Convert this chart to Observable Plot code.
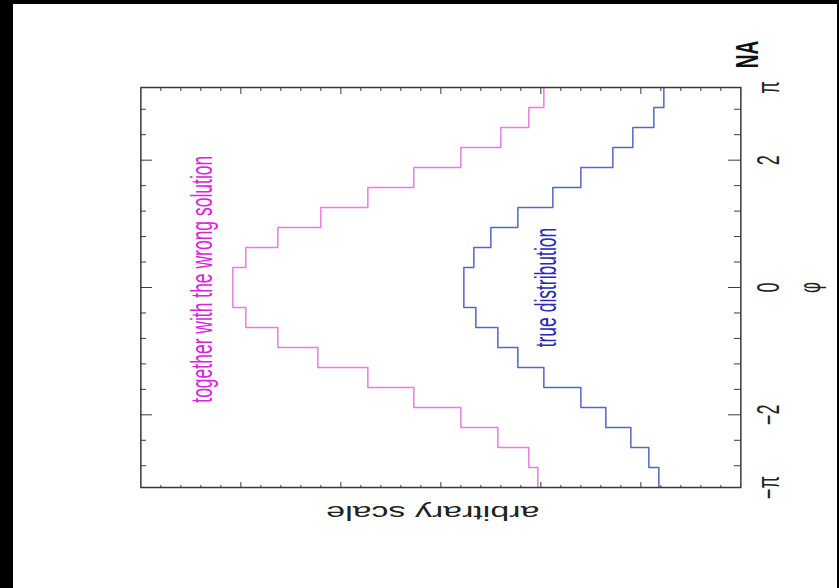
<!DOCTYPE html>
<html><head><meta charset="utf-8">
<script src="https://cdn.jsdelivr.net/npm/d3@7"></script>
<script src="https://cdn.jsdelivr.net/npm/@observablehq/plot@0.6"></script>
<style>
html,body{margin:0;padding:0;background:#000;overflow:hidden;width:839px;height:588px;}
#paper{position:absolute;left:13px;top:4px;width:824px;height:584px;background:#fff;}
#chart{position:absolute;left:0;top:0;width:839px;height:588px;overflow:hidden;}
</style></head><body>
<div id="paper"></div><div id="chart"></div>
<script>
// ---- data (arbitrary units, 0..6 frame) ----
const binCount = 20;
const wrongSolution = [2.03, 2.12, 2.43, 2.80, 3.27, 3.73, 4.23, 4.63, 4.95, 5.08, 5.08, 4.95, 4.63, 4.20, 3.73, 3.27, 2.80, 2.40, 2.12, 1.97];
const trueDistribution = [0.82, 0.92, 1.10, 1.35, 1.60, 1.97, 2.23, 2.43, 2.65, 2.77, 2.77, 2.67, 2.50, 2.23, 1.88, 1.60, 1.28, 1.08, 0.87, 0.77];
const phiTicks = [-Math.PI, -2, 0, 2, Math.PI];
const phiTickLabels = ["−π", "−2", "0", "2", "π"];
const phiMajor = [-2, 0, 2];
const phiMinor = [-2.8, -2.4, -1.6, -1.2, -0.8, -0.4, 0.4, 0.8, 1.2, 1.6, 2.4, 2.8];
const valueMajor = [1, 2, 3, 4, 5];
const valueMinor = d3.range(1, 30).map(i => i / 5).filter(v => Math.abs(v - Math.round(v)) > 1e-6);
const annoText = ["together with the wrong solution", "true distribution"];
const annoPhi = [-1.81, -0.94];
const annoValue = [5.29, 1.85];
const annoColor = ["#dd22dd", "#2a2ab8"];
const yLabel = "arbitrary scale";
const yLabelValue = 3.08;
const xLabel = "φ";
const cornerLabel = "NA";

// ---- layout (original orientation, later rotated & stretched) ----
const W0 = 588, H0 = 494, S = 839 / H0;
const mt = 140 / S, mb = H0 - 740 / S, ml = 100, mr = 88;
const frameH = H0 - mt - mb, frameW = W0 - ml - mr;

const edges = d3.range(binCount + 1).map(i => -Math.PI + i * 2 * Math.PI / binCount);
const steps = vals => vals.map((v, i) => ({phi: edges[i], v})).concat([{phi: edges[binCount], v: vals[binCount - 1]}]);

const axisColor = "#3a3a3a";
const chart = Plot.plot({
  width: W0, height: H0,
  marginTop: mt, marginBottom: mb, marginLeft: ml, marginRight: mr,
  x: {domain: [-Math.PI, Math.PI], axis: null},
  y: {domain: [0, 6], axis: null},
  style: {fontFamily: "'Liberation Sans', Arial, sans-serif", background: "transparent", color: "#222"},
  marks: [
    Plot.line(steps(wrongSolution), {x: "phi", y: "v", curve: "step-after", stroke: "#e47ee4", strokeWidth: 1.5}),
    Plot.line(steps(trueDistribution), {x: "phi", y: "v", curve: "step-after", stroke: "#5865c6", strokeWidth: 1.5}),
    // ticks on all four sides, pointing inward
    Plot.tickX(phiMajor, {x: d => d, insetTop: frameH - 7, stroke: axisColor}),
    Plot.tickX(phiMinor, {x: d => d, insetTop: frameH - 3.5, stroke: axisColor}),
    Plot.tickX(phiMajor, {x: d => d, insetBottom: frameH - 7, stroke: axisColor}),
    Plot.tickX(phiMinor, {x: d => d, insetBottom: frameH - 3.5, stroke: axisColor}),
    Plot.tickY(valueMajor, {y: d => d, insetRight: frameW - 6, stroke: axisColor}),
    Plot.tickY(valueMinor, {y: d => d, insetRight: frameW - 3, stroke: axisColor}),
    Plot.tickY(valueMajor, {y: d => d, insetLeft: frameW - 6, stroke: axisColor}),
    Plot.tickY(valueMinor, {y: d => d, insetLeft: frameW - 3, stroke: axisColor}),
    Plot.frame({stroke: axisColor, strokeWidth: 1.5}),
    Plot.text(phiTicks, {x: d => d, text: (d, i) => phiTickLabels[i], frameAnchor: "bottom", dy: 9.5, lineAnchor: "top", fontSize: 18, fill: "#222"}),
    Plot.text([xLabel], {text: d => d, frameAnchor: "bottom", dy: 41, lineAnchor: "middle", fontSize: 17, fill: "#222"}),
    Plot.text([cornerLabel], {text: d => d, frameAnchor: "bottom-right", dx: 33, dy: 4, textAnchor: "middle", lineAnchor: "middle", fontSize: 19, fontWeight: "bold", fill: "#111"}),
    Plot.text([yLabel], {text: d => d, y: () => yLabelValue, frameAnchor: "left", rotate: -90, dx: -18, textAnchor: "middle", lineAnchor: "bottom", fontSize: 20, fill: "#222"}),
    Plot.text(annoText, {text: d => d, x: (d, i) => annoPhi[i], y: (d, i) => annoValue[i], fill: (d, i) => annoColor[i], textAnchor: "start", lineAnchor: "bottom", fontSize: 17.5})
  ]
});

// stretch the original drawing and rotate it like the reference
chart.setAttribute("width", W0);
chart.setAttribute("height", 839);
chart.setAttribute("preserveAspectRatio", "none");
Object.assign(chart.style, {
  position: "absolute", left: "0px", top: "0px",
  width: W0 + "px", height: "839px", maxWidth: "none",
  transformOrigin: "0 0", transform: "translate(0px, 588px) rotate(-90deg)",
  background: "transparent", overflow: "visible"
});
chart.querySelectorAll("path, line, rect").forEach(e => e.setAttribute("vector-effect", "non-scaling-stroke"));
document.getElementById("chart").appendChild(chart);
</script>
</body></html>
